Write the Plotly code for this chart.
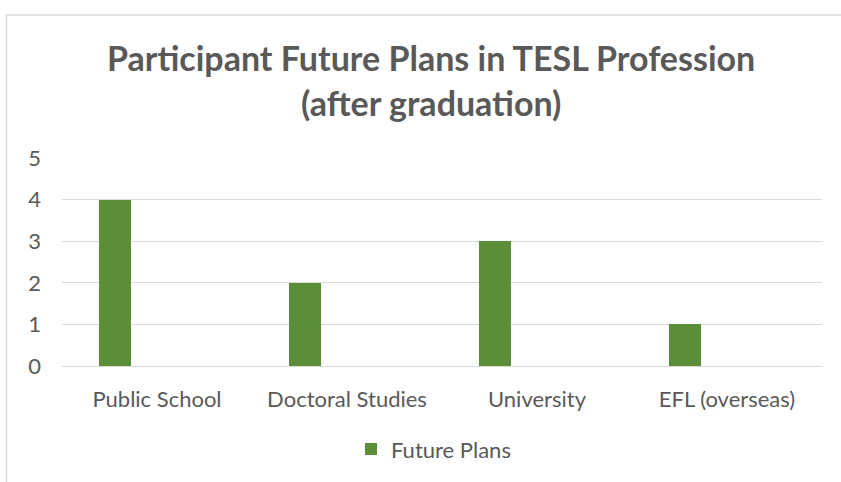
import plotly.graph_objects as go

categories = ["Public School", "Doctoral Studies", "University", "EFL (overseas)"]
values = [4, 2, 3, 1]
series_name = "Future Plans"
title_lines = ["Participant Future Plans in TESL Profession", "(after graduation)"]
y_ticks = [0, 1, 2, 3, 4, 5]

W, H = 841, 482
L, R, T, B = 62, 19, 158, 114
PW, PH = W - L - R, H - T - B

fig = go.Figure()
fig.add_trace(go.Bar(
    x=categories, y=values, name=series_name,
    marker=dict(color="#5C8E3A", line=dict(width=0)),
    offset=-0.305, width=0.17,
    showlegend=True,
))

gray = "#595959"
font = "Lato, Calibri, Carlito, sans-serif"

fig.update_layout(
    width=W, height=H,
    margin=dict(l=L, r=R, t=T, b=B, pad=0),
    paper_bgcolor="white", plot_bgcolor="white",
    font=dict(family=font, color=gray, size=22),
    showlegend=True,
    legend=dict(orientation="h", x=(351 - L) / PW, xanchor="left",
                y=-(452 - (T + PH)) / PH, yanchor="middle",
                font=dict(size=22, color=gray, family=font),
                bgcolor="rgba(0,0,0,0)"),
    xaxis=dict(showgrid=False, showline=False, zeroline=False,
               ticks="", tickfont=dict(size=22, color=gray),
               ticklabelstandoff=18),
    yaxis=dict(range=[0, 5], tickvals=y_ticks, showgrid=True,
               gridcolor="#D9D9D9", gridwidth=1, zeroline=True,
               zerolinecolor="#D9D9D9", zerolinewidth=1, showline=False,
               ticks="", tickfont=dict(size=22, color=gray),
               ticklabelstandoff=20),
    bargap=0,
)

for i, (txt, ypx) in enumerate(zip(title_lines, [57, 102])):
    fig.add_annotation(
        text="<b>%s</b>" % txt, xref="paper", yref="paper",
        x=(431 - L) / PW, y=(T + PH - ypx) / PH,
        xanchor="center", yanchor="middle", showarrow=False,
        font=dict(size=34, color=gray, family=font),
    )

# chart frame
fig.add_shape(type="rect", xref="paper", yref="paper",
              x0=(6.5 - L) / PW, x1=(900 - L) / PW,
              y0=-(600 - (T + PH)) / PH, y1=(T + PH - 13.5) / PH,
              line=dict(color="#D9D9D9", width=1.5), fillcolor="rgba(0,0,0,0)",
              layer="below")

fig.write_html("out.html", config={"displayModeBar": False},
               post_script="document.body.style.margin='0px';")
